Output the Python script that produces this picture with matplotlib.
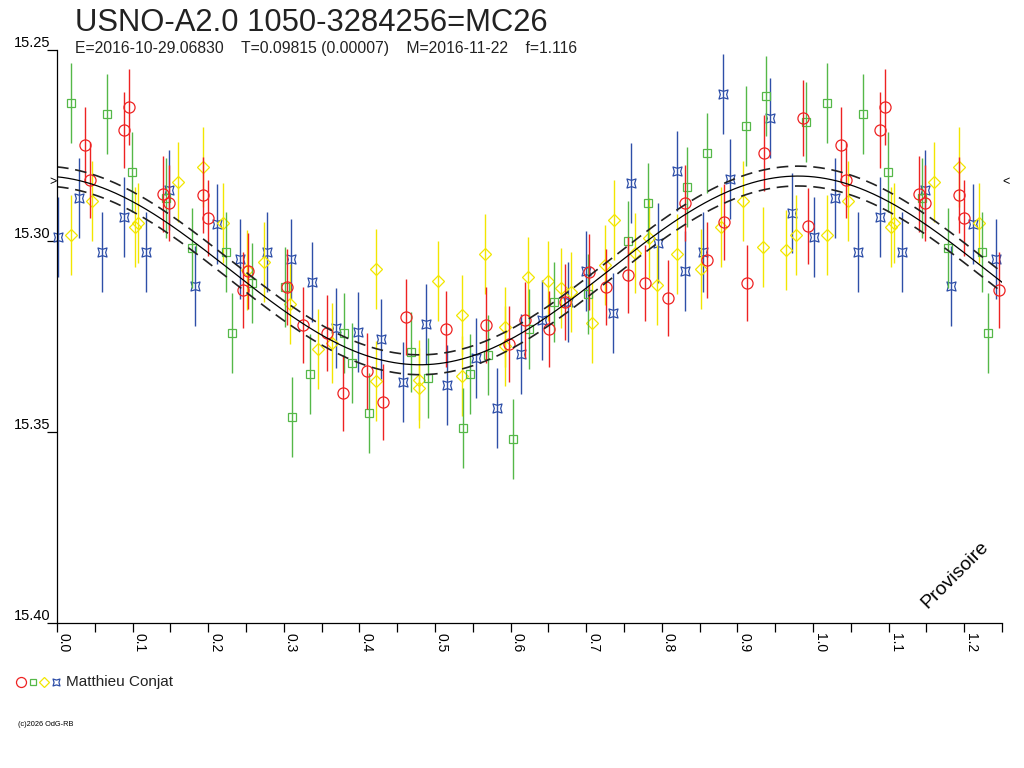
import numpy as np
import matplotlib.pyplot as plt
from matplotlib.path import Path
from matplotlib.lines import Line2D

plt.rcParams['font.family'] = ['Liberation Sans', 'DejaVu Sans']

TITLE = "USNO-A2.0 1050-3284256=MC26"
SUBTITLE = "E=2016-10-29.06830    T=0.09815 (0.00007)    M=2016-11-22    f=1.116"
OBSERVER = "Matthieu Conjat"
COPYRIGHT = "(c)2026 OdG-RB"
STAMP = "Provisoire"

# Observations (phase 0..1), 4 series of the same observer
red_phase = [0.037, 0.044, 0.089, 0.095, 0.140, 0.148, 0.193, 0.200, 0.246, 0.253,
             0.304, 0.325, 0.357, 0.378, 0.410, 0.431, 0.462, 0.515, 0.568, 0.598,
             0.619, 0.651, 0.672, 0.704, 0.726, 0.755, 0.778, 0.808, 0.831, 0.860,
             0.882, 0.913, 0.935, 0.987, 0.993]
red_mag = [15.2749, 15.2840, 15.2709, 15.2649, 15.2877, 15.2901, 15.2880, 15.2940, 15.3128, 15.3079,
           15.3120, 15.3220, 15.3241, 15.3398, 15.3340, 15.3421, 15.3199, 15.3230, 15.3220, 15.3270,
           15.3207, 15.3230, 15.3160, 15.3081, 15.3120, 15.3089, 15.3110, 15.3149, 15.2901, 15.3050,
           15.2950, 15.3110, 15.2770, 15.2678, 15.2961]

green_phase = [0.019, 0.066, 0.099, 0.144, 0.179, 0.224, 0.232, 0.258, 0.302, 0.311,
               0.335, 0.380, 0.390, 0.413, 0.468, 0.491, 0.537, 0.546, 0.570, 0.603,
               0.624, 0.657, 0.702, 0.755, 0.782, 0.833, 0.860, 0.911, 0.938, 0.991]
green_mag = [15.2639, 15.2668, 15.2819, 15.2887, 15.3018, 15.3029, 15.3241, 15.3110, 15.3120, 15.3461,
             15.3348, 15.3241, 15.3319, 15.3450, 15.3291, 15.3359, 15.3490, 15.3348, 15.3298, 15.3518,
             15.3230, 15.3160, 15.3139, 15.3000, 15.2901, 15.2859, 15.2770, 15.2699, 15.2620, 15.2688]

yellow_phase = [0.019, 0.046, 0.103, 0.107, 0.160, 0.193, 0.220, 0.251, 0.274, 0.308,
                0.345, 0.364, 0.422, 0.422, 0.479, 0.479, 0.504, 0.536, 0.536, 0.566,
                0.593, 0.593, 0.623, 0.650, 0.667, 0.680, 0.708, 0.725, 0.737, 0.765,
                0.783, 0.794, 0.820, 0.852, 0.878, 0.907, 0.934, 0.964, 0.978]
yellow_mag = [15.2984, 15.2895, 15.2963, 15.2953, 15.2846, 15.2806, 15.2953, 15.3076, 15.3055, 15.3165,
              15.3283, 15.3267, 15.3073, 15.3366, 15.3364, 15.3385, 15.3105, 15.3194, 15.3353, 15.3034,
              15.3225, 15.3275, 15.3094, 15.3105, 15.3123, 15.3134, 15.3215, 15.3063, 15.2945, 15.3031,
              15.2992, 15.3115, 15.3034, 15.3073, 15.2963, 15.2895, 15.3016, 15.3024, 15.2984]

blue_phase = [0.001, 0.029, 0.060, 0.089, 0.118, 0.148, 0.183, 0.212, 0.242, 0.278,
              0.310, 0.337, 0.369, 0.398, 0.429, 0.458, 0.488, 0.516, 0.554, 0.582,
              0.614, 0.642, 0.676, 0.700, 0.735, 0.759, 0.795, 0.820, 0.831, 0.855,
              0.881, 0.890, 0.943, 0.972]
blue_mag = [15.2990, 15.2887, 15.3029, 15.2937, 15.3029, 15.2866, 15.3118, 15.2955, 15.3047, 15.3029,
            15.3047, 15.3107, 15.3228, 15.3238, 15.3257, 15.3369, 15.3217, 15.3377, 15.3306, 15.3437,
            15.3296, 15.3207, 15.3160, 15.3079, 15.3188, 15.2848, 15.3005, 15.2817, 15.3079, 15.3029,
            15.2615, 15.2838, 15.2678, 15.2927]

red_err = 0.0100
green_err = 0.0105
yellow_err = 0.0105
blue_err = 0.0105

# Fitted light curve
FIT_MEAN = 15.3077
FIT_AMP = 0.0247
FIT_MAX_PHASE = 0.98
FIT_SIGMA = 0.0026
REF_MAG = 15.2846

PHASE_MAX = 1.25

RED = '#ee2222'
GREEN = '#55b848'
YELLOW = '#f2e600'
BLUE = '#2e4fa8'

# blue marker: square with concave sides
star_verts = [(-1, 1), (0, 0.7), (1, 1), (0.7, 0), (1, -1), (0, -0.7), (-1, -1), (-0.7, 0), (-1, 1)]
star_codes = [Path.MOVETO] + [Path.LINETO] * 7 + [Path.CLOSEPOLY]
STAR = Path(star_verts, star_codes)


def fold(phase, mag):
    """Répète les points de phase 0..0.25 au-delà de 1."""
    phase = np.asarray(phase)
    mag = np.asarray(mag)
    extra = phase + 1 <= PHASE_MAX
    return np.concatenate([phase, phase[extra] + 1]), np.concatenate([mag, mag[extra]])


fig = plt.figure(figsize=(10.24, 7.68), dpi=100)
ax = fig.add_axes([57 / 1024, 1 - 623 / 768, 945 / 1024, 573 / 768])

series = [
    (blue_phase, blue_mag, blue_err, BLUE, STAR, 6.5),
    (yellow_phase, yellow_mag, yellow_err, YELLOW, 'D', 6.3),
    (green_phase, green_mag, green_err, GREEN, 's', 6.3),
    (red_phase, red_mag, red_err, RED, 'o', 8.0),
]
for ph, mg, err, col, mk, ms in series:
    x, y = fold(ph, mg)
    ax.errorbar(x, y, yerr=err, fmt='none', ecolor=col, elinewidth=1.0, capsize=0, clip_on=False)
    ax.plot(x, y, linestyle='none', marker=mk, markersize=ms, markerfacecolor='none',
            markeredgecolor=col, markeredgewidth=0.9, clip_on=False)

# Courbe ajustée et enveloppe
ph = np.linspace(0, PHASE_MAX, 500)
fit = FIT_MEAN - FIT_AMP * np.cos(2 * np.pi * (ph - FIT_MAX_PHASE))
ax.plot(ph, fit, color='black', lw=0.9)
ax.plot(ph, fit - FIT_SIGMA, color='#222222', lw=1.2, linestyle=(0, (7, 4)))
ax.plot(ph, fit + FIT_SIGMA, color='#222222', lw=1.2, linestyle=(0, (7, 4)))

ax.text(0, REF_MAG, '>', ha='right', va='center', fontsize=9, clip_on=False)
ax.text(PHASE_MAX, REF_MAG, '<', ha='left', va='center', fontsize=9, clip_on=False)

ax.set_xlim(0, PHASE_MAX)
ax.set_ylim(15.40, 15.25)

for side in ('top', 'right'):
    ax.spines[side].set_visible(False)
for side in ('left', 'bottom'):
    ax.spines[side].set_linewidth(0.9)

xt = np.round(np.arange(0, 1.21, 0.1), 2)
ax.set_xticks(xt)
ax.set_xticklabels([f"{v:.1f}" for v in xt], rotation=270, ha='left', va='top', fontsize=10)
ax.set_xticks(np.round(np.arange(0.05, 1.26, 0.1), 2), minor=True)
ax.tick_params(axis='x', which='both', direction='out', length=6.5, width=0.9, pad=1)

yt = [15.25, 15.30, 15.35, 15.40]
ax.set_yticks(yt)
ax.set_yticklabels([f"{v:.2f}" for v in yt], va='bottom', fontsize=10.5)
ax.tick_params(axis='y', direction='out', length=7.2, width=0.9, pad=-2.5)

# Textes
fig.text(75 / 1024, 1 - 31 / 768, TITLE, fontsize=22.3, va='baseline', color='#222222')
fig.text(75 / 1024, 1 - 53 / 768, SUBTITLE, fontsize=11.3, va='baseline', color='#222222')
fig.text(955 / 1024, 1 - 575 / 768, STAMP, fontsize=14, rotation=45, ha='center', va='center')
fig.text(66 / 1024, 1 - 682 / 768, OBSERVER, fontsize=11, va='center', color='#222222')
fig.text(18 / 1024, 1 - 725 / 768, COPYRIGHT, fontsize=5.3, va='center')

# Légende dessinée à la main sous le graphique
legend_marks = [(RED, 'o', 7.2, 21), (GREEN, 's', 5.0, 32.5), (YELLOW, 'D', 5.2, 44), (BLUE, STAR, 5.0, 56)]
for col, mk, ms, px in legend_marks:
    fig.add_artist(Line2D([px / 1024], [1 - 682 / 768], transform=fig.transFigure,
                          marker=mk, markersize=ms, markerfacecolor='none',
                          markeredgecolor=col, markeredgewidth=0.9, linestyle='none'))

plt.savefig('out.png', dpi=100)
